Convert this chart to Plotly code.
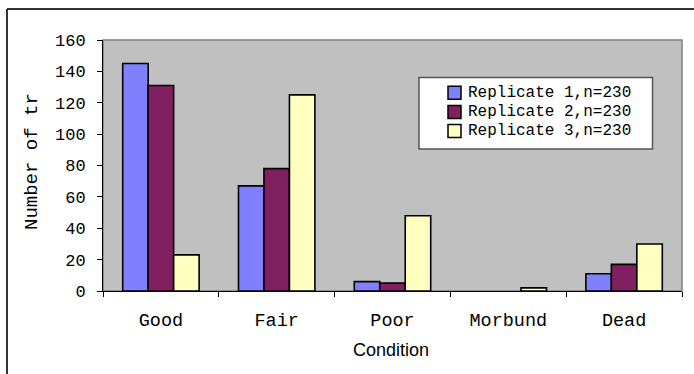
import plotly.graph_objects as go

# Tree condition counts per replicate
conditions = ["Good", "Fair", "Poor", "Morbund", "Dead"]
replicate_names = ["Replicate 1,n=230", "Replicate 2,n=230", "Replicate 3,n=230"]
rep1 = [145, 67, 6, 0, 11]
rep2 = [131, 78, 5, 0, 17]
rep3 = [23, 125, 48, 2, 30]
y_ticks = [0, 20, 40, 60, 80, 100, 120, 140, 160]

colors = ["#8080FF", "#802060", "#FFFFC0"]

W, H = 694, 374
L, R, T, B = 103, 12, 40, 83
PW, PH = W - L - R, H - T - B


def px(x):
    return (x - L) / PW


def py(y):
    return (T + PH - y) / PH


fig = go.Figure()
for name, vals, col in zip(replicate_names, [rep1, rep2, rep3], colors):
    # no outline on empty (zero) bars
    widths = [1.6 if v > 0 else 0 for v in vals]
    fig.add_trace(go.Bar(
        x=conditions, y=vals, name=name,
        marker=dict(color=col, line=dict(color="black", width=widths)),
    ))

mono = "Liberation Mono, Courier New, monospace"

shapes = [
    # plot-area frame (grey top/right edges)
    dict(type="rect", xref="paper", yref="paper", x0=0, x1=1, y0=0, y1=1,
         line=dict(color="#808080", width=1.5), layer="below"),
    # outer chart frame
    dict(type="line", xref="paper", yref="paper", x0=px(7), x1=px(7), y0=py(9), y1=py(380),
         line=dict(color="#333333", width=2)),
    dict(type="line", xref="paper", yref="paper", x0=px(7), x1=px(700), y0=py(9), y1=py(9),
         line=dict(color="#333333", width=2)),
    # legend box
    dict(type="rect", xref="paper", yref="paper", x0=px(419), x1=px(652.5), y0=py(149), y1=py(77.5),
         fillcolor="white", line=dict(color="#555555", width=1.5), layer="above"),
]

annotations = []
row_y = [92.7, 112, 131]
for name, col, ry in zip(replicate_names, colors, row_y):
    shapes.append(dict(type="rect", xref="paper", yref="paper",
                       x0=px(448), x1=px(461), y0=py(ry + 6.5), y1=py(ry - 6.5),
                       fillcolor=col, line=dict(color="black", width=1.5), layer="above"))
    annotations.append(dict(text=name, xref="paper", yref="paper", x=px(466), y=py(ry),
                            xanchor="left", yanchor="middle", showarrow=False,
                            font=dict(family=mono, size=16, color="black")))

annotations.append(dict(text="Condition", xref="paper", yref="paper", x=px(391), y=py(350),
                        xanchor="center", yanchor="middle", showarrow=False,
                        font=dict(family="Liberation Sans, Arial, sans-serif", size=18, color="black")))
annotations.append(dict(text="Number of tr", xref="paper", yref="paper", x=px(31.5), y=py(232),
                        xanchor="center", yanchor="bottom", textangle=-90, showarrow=False,
                        font=dict(family=mono, size=19, color="black")))

fig.update_layout(
    width=W, height=H,
    margin=dict(l=L, r=R, t=T, b=B, pad=0),
    paper_bgcolor="white", plot_bgcolor="#C0C0C0",
    barmode="group", bargap=0.34, bargroupgap=0,
    showlegend=False,
    shapes=shapes, annotations=annotations,
    xaxis=dict(
        type="category", range=[-0.5, 4.5], showgrid=False, zeroline=False,
        showline=True, linecolor="black", linewidth=1,
        ticks="outside", tickson="boundaries", ticklen=5, tickcolor="black",
        tickfont=dict(family=mono, size=18.5, color="black"), ticklabelstandoff=12,
    ),
    yaxis=dict(
        range=[0, 160], tickvals=y_ticks, showgrid=False, zeroline=False,
        showline=True, linecolor="black", linewidth=1,
        ticks="outside", ticklen=5, tickcolor="black",
        tickfont=dict(family=mono, size=17, color="black"), ticklabelstandoff=8,
    ),
)

fig.write_html("out.html")
